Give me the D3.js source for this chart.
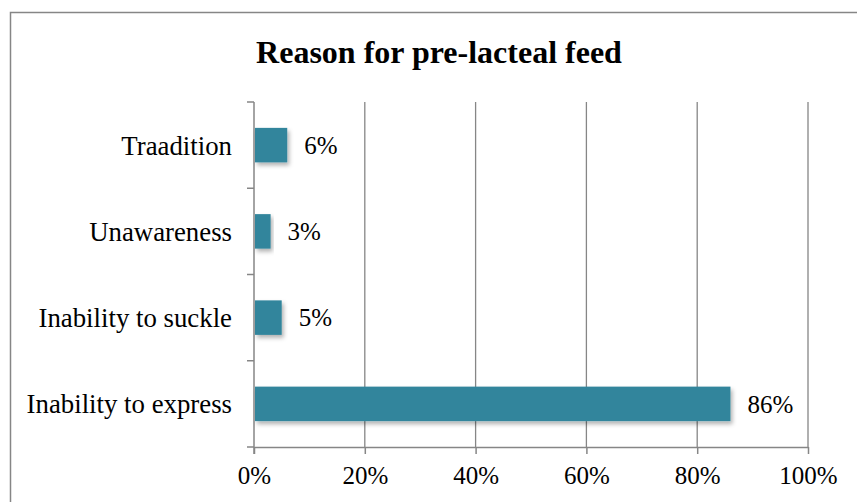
<!DOCTYPE html>
<html>
<head>
<meta charset="utf-8">
<script src="https://cdn.jsdelivr.net/npm/d3@7"></script>
<style>
  body { margin: 0; background: #fff; }
  svg text { font-family: "Liberation Serif", "Times New Roman", serif; fill: #000; }
</style>
</head>
<body>
<div id="chart"></div>
<script>
// data
const categories = ["Traadition", "Unawareness", "Inability to suckle", "Inability to express"];
const values = [6, 3, 5, 86];
const xTicks = [0, 20, 40, 60, 80, 100];

const W = 857, H = 502;
const plot = { left: 254, right: 808, top: 102, bottom: 447 };

const svg = d3.select("#chart").append("svg")
    .attr("width", W)
    .attr("height", H);

// shadow under the bars
const defs = svg.append("defs");
const f = defs.append("filter").attr("id", "shadow")
    .attr("x", "-10%").attr("y", "-20%").attr("width", "130%").attr("height", "160%");
f.append("feDropShadow")
    .attr("dx", 2).attr("dy", 3).attr("stdDeviation", 2)
    .attr("flood-color", "#000").attr("flood-opacity", 0.3);

// outer chart border
svg.append("rect")
    .attr("x", 10.5).attr("y", 12.5)
    .attr("width", W).attr("height", H)
    .attr("fill", "none").attr("stroke", "#868686").attr("stroke-width", 1.5);

const x = d3.scaleLinear().domain([0, 100]).range([plot.left, plot.right]);
const y = d3.scaleBand().domain(categories)
    .range([plot.top, plot.bottom])
    .paddingInner(0.6).paddingOuter(0.3);

// vertical gridlines
svg.append("g")
    .selectAll("line")
    .data(xTicks.slice(1))
    .enter().append("line")
    .attr("x1", d => x(d)).attr("x2", d => x(d))
    .attr("y1", plot.top).attr("y2", plot.bottom)
    .attr("stroke", "#868686").attr("stroke-width", 1.3);

// x axis
const xAxis = svg.append("g")
    .attr("transform", `translate(0,${plot.bottom})`)
    .call(d3.axisBottom(x).tickValues(xTicks).tickFormat(d => d + "%").tickSize(7).tickSizeOuter(0).tickPadding(12));
xAxis.select(".domain").attr("stroke", "#868686").attr("stroke-width", 1.5);
xAxis.selectAll(".tick line").attr("stroke", "#868686").attr("stroke-width", 1.5);
xAxis.selectAll("text")
    .attr("font-size", "25px")
    .attr("font-family", "Liberation Serif");

// y axis: ticks sit between the categories
const bounds = d3.range(categories.length + 1).map(i => plot.top + i * (plot.bottom - plot.top) / categories.length);
svg.append("line")
    .attr("x1", plot.left).attr("x2", plot.left)
    .attr("y1", plot.top).attr("y2", plot.bottom + 7)
    .attr("stroke", "#868686").attr("stroke-width", 1.5);
svg.append("g")
    .selectAll("line")
    .data(bounds)
    .enter().append("line")
    .attr("x1", plot.left - 7).attr("x2", plot.left)
    .attr("y1", d => d).attr("y2", d => d)
    .attr("stroke", "#868686").attr("stroke-width", 1.5);

svg.append("g")
    .selectAll("text")
    .data(categories)
    .enter().append("text")
    .attr("x", plot.left - 22)
    .attr("y", d => y(d) + y.bandwidth() / 2)
    .attr("dy", "0.35em")
    .attr("text-anchor", "end")
    .attr("font-size", "26.8px")
    .text(d => d);

// bars
svg.append("g")
    .selectAll("rect")
    .data(values)
    .enter().append("rect")
    .attr("x", x(0) + 1)
    .attr("y", (d, i) => y(categories[i]))
    .attr("width", d => x(d) - x(0) - 1)
    .attr("height", y.bandwidth())
    .attr("fill", "#31859C")
    .attr("filter", "url(#shadow)");

// value labels
svg.append("g")
    .selectAll("text")
    .data(values)
    .enter().append("text")
    .attr("x", d => x(d) + 17)
    .attr("y", (d, i) => y(categories[i]) + y.bandwidth() / 2)
    .attr("dy", "0.35em")
    .attr("font-size", "25px")
    .text(d => d + "%");

// title
svg.append("text")
    .attr("x", 439)
    .attr("y", 63)
    .attr("text-anchor", "middle")
    .attr("font-size", "32px")
    .attr("font-weight", "bold")
    .text("Reason for pre-lacteal feed");
</script>
</body>
</html>
